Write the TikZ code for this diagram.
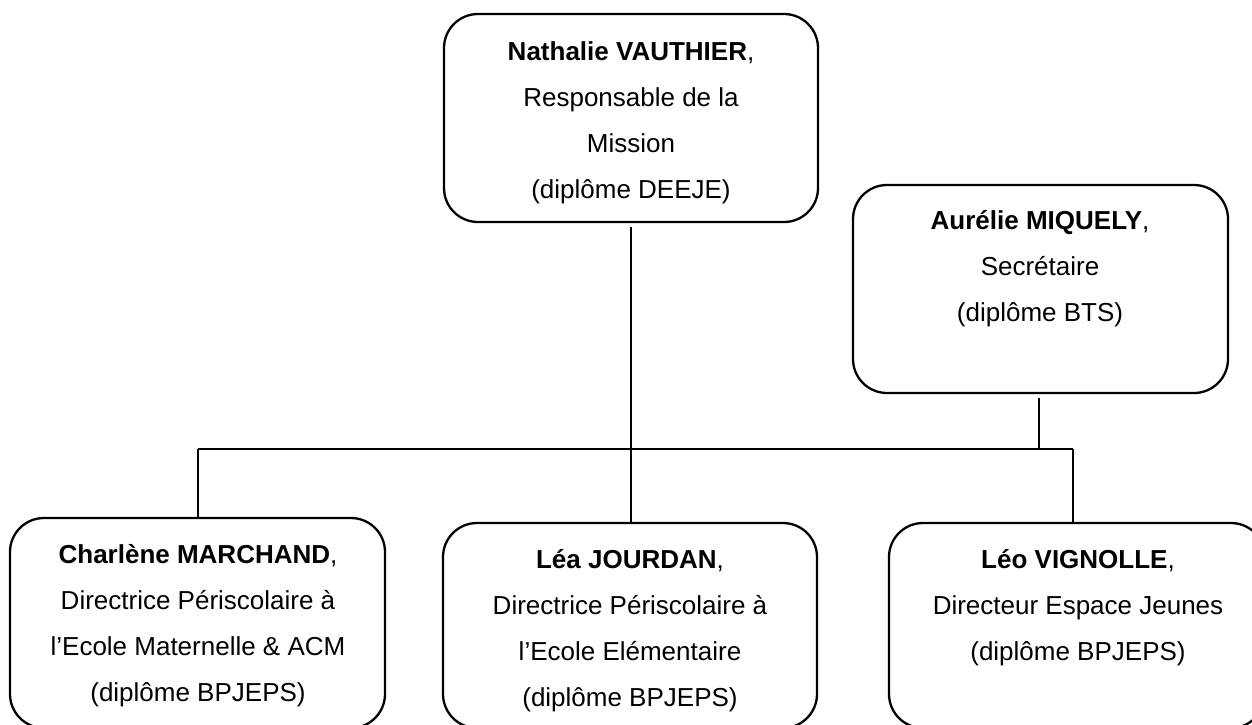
\documentclass[tikz,border=0pt]{standalone}
\usepackage{fontspec}
\setmainfont{Liberation Sans}
\tikzset{
  orgbox/.style={draw, line width=2.3pt, rounded corners=34pt, inner sep=0pt},
  orgtxt/.style={align=center, inner sep=0pt, anchor=north, font=\fontsize{26}{46}\selectfont},
  link/.style={line width=2.5pt}
}
\newcommand{\fl}{\rule{0pt}{22pt}}
\begin{document}
\begin{tikzpicture}[x=1pt,y=-1pt]
\useasboundingbox (0,0) rectangle (1252,724);
\clip (0,0) rectangle (1252,724);
% boxes
\node[orgbox, minimum width=374pt, minimum height=208pt] (nath) at (631,118) {};
\node[orgbox, minimum width=375pt, minimum height=208pt] (aur) at (1040.5,289) {};
\node[orgbox, minimum width=375pt, minimum height=210pt] (char) at (197.5,623) {};
\node[orgbox, minimum width=374pt, minimum height=205pt] (lea) at (630,625.5) {};
\node[orgbox, minimum width=376pt, minimum height=205pt] (leo) at (1077,625.5) {};
% texts
\node[orgtxt] (nathT) at (631,38) {\fl\textbf{Nathalie VAUTHIER},\\Responsable de la\\Mission\\(diplôme DEEJE)};
\node[orgtxt] (aurT) at (1040,207) {\fl\textbf{Aurélie MIQUELY},\\Secrétaire\\(diplôme BTS)};
\node[orgtxt] (charT) at (198,541) {\fl\textbf{Charlène MARCHAND},\\Directrice Périscolaire à\\l’Ecole Maternelle \& ACM\\(diplôme BPJEPS)};
\node[orgtxt] (leaT) at (630,546) {\fl\textbf{Léa JOURDAN},\\Directrice Périscolaire à\\l’Ecole Elémentaire\\(diplôme BPJEPS)};
\node[orgtxt] (leoT) at (1078,546) {\fl\textbf{Léo VIGNOLLE},\\Directeur Espace Jeunes\\(diplôme BPJEPS)};
% connectors
\coordinate (hl) at (198,449);
\coordinate (hr) at (1073,449);
\coordinate (nathx) at (631,222);
\coordinate (aurx) at (1039,393);
\draw[link] (hl) -- (hr);
\draw[link] (hl) -- (hl |- char.north);
\draw[link] (hr) -- (hr |- leo.north);
\draw[link, shorten <=5pt] (nathx) -- (nathx |- lea.north);
\draw[link, shorten <=5pt] (aurx) -- (aurx |- hl);
\end{tikzpicture}
\end{document}
